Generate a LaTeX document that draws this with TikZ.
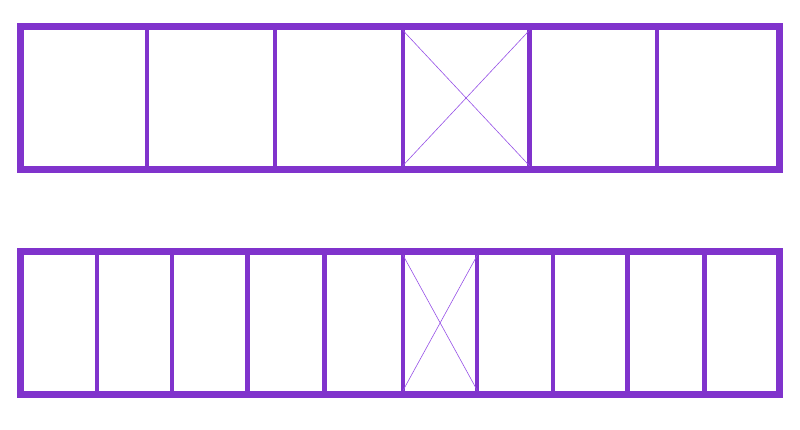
\documentclass[tikz,border=0pt]{standalone}
\definecolor{frame}{RGB}{128,51,204}
\definecolor{crossc}{RGB}{150,80,230}
\tikzset{
  outerframe/.style={draw=frame, line width=7pt},
  divider/.style={draw=frame, line width=4.3pt},
  crossline/.style={draw=crossc, line width=0.6pt}
}
\begin{document}
\begin{tikzpicture}[x=1pt,y=-1pt]
\useasboundingbox (0,0) rectangle (800,430);
% top row
\foreach \x in {147,275.3,402.7,529.5,657.3}
  \draw[divider] (\x,26.7) -- (\x,169.3);
\draw[crossline] (402.7,30.2) -- (529.5,165.8);
\draw[crossline] (529.5,30.2) -- (402.7,165.8);
\draw[outerframe] (20.5,26.7) rectangle (779.2,169.3);
% bottom row
\foreach \x in {97.2,172.3,247.5,324.5,403,477.3,552.8,627.5,704.5}
  \draw[divider] (\x,251.7) -- (\x,394);
\draw[crossline] (403,255.2) -- (477.3,390.5);
\draw[crossline] (477.3,255.2) -- (403,390.5);
\draw[outerframe] (20.5,251.7) rectangle (779.2,394);
\end{tikzpicture}
\end{document}
